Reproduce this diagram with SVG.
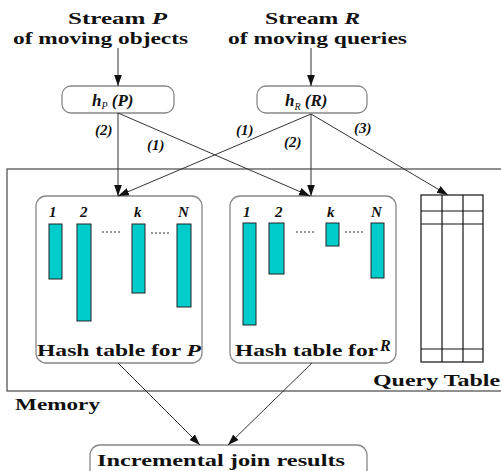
<svg xmlns="http://www.w3.org/2000/svg" width="501" height="471" viewBox="0 0 501 471">
<style>
text{font-family:"Liberation Serif","DejaVu Serif","Times New Roman",serif;font-weight:bold;fill:#111}
.lbl{font-size:16px}
.it{font-style:italic}
.rbox{fill:#fff;stroke:#888;stroke-width:1.3}
.bar{fill:#00cccc;stroke:#222;stroke-width:1}
.ar{stroke:#333;stroke-width:1;fill:none;marker-end:url(#ah)}
.dot{stroke:#333;stroke-width:1;stroke-dasharray:2,2}
.qt{stroke:#111;stroke-width:1.2;fill:#fff}
</style>
<defs>
<marker id="ah" viewBox="0 0 10 10" refX="10" refY="5" markerWidth="11" markerHeight="11" markerUnits="userSpaceOnUse" orient="auto">
<path d="M0,1.5 L10,5 L0,8.5 z" fill="#111"/>
</marker>
</defs>
<rect width="501" height="471" fill="#fff"/>

<g id="memory">
<rect x="7" y="169" width="500" height="222" fill="none" stroke="#555" stroke-width="1.3"/>
<text class="lbl" x="15" y="410" textLength="85" lengthAdjust="spacingAndGlyphs">Memory</text>
</g>

<g id="streamP">
<text class="lbl" x="68" y="24" textLength="99" lengthAdjust="spacingAndGlyphs">Stream  <tspan class="it">P</tspan></text>
<text class="lbl" x="13" y="44" textLength="175" lengthAdjust="spacingAndGlyphs">of moving objects</text>
</g>

<g id="streamR">
<text class="lbl" x="265" y="24" textLength="95" lengthAdjust="spacingAndGlyphs">Stream <tspan class="it">R</tspan></text>
<text class="lbl" x="228" y="44" textLength="179" lengthAdjust="spacingAndGlyphs">of moving queries</text>
</g>

<g id="hP">
<rect class="rbox" x="62" y="86" width="112" height="27" rx="9"/>
<text class="it" x="92" y="106" font-size="17">h<tspan font-size="10" font-weight="normal" dy="3">P</tspan><tspan dy="-3"> (P)</tspan></text>
</g>

<g id="hR">
<rect class="rbox" x="257" y="86" width="110" height="27" rx="9"/>
<text class="it" x="285" y="106" font-size="17">h<tspan font-size="10" font-weight="normal" dy="4">R</tspan><tspan dy="-4">  (R)</tspan></text>
</g>

<g id="hashP">
<rect class="rbox" x="36" y="196" width="166" height="167" rx="10"/>
<text class="it" font-size="15" x="49" y="217">1</text>
<text class="it" font-size="15" x="80" y="217">2</text>
<text class="it" font-size="15" x="134" y="217">k</text>
<text class="it" font-size="15" x="178" y="217">N</text>
<rect class="bar" x="49" y="224" width="13" height="55"/>
<rect class="bar" x="77" y="224" width="14" height="97"/>
<rect class="bar" x="132" y="224" width="13" height="69"/>
<rect class="bar" x="177" y="224" width="14" height="83"/>
<line class="dot" x1="102" y1="232" x2="121" y2="232"/>
<line class="dot" x1="151" y1="233" x2="170" y2="233"/>
<text font-size="16" x="37" y="356" textLength="164" lengthAdjust="spacingAndGlyphs">Hash table for <tspan class="it">P</tspan></text>
</g>

<g id="hashR">
<rect class="rbox" x="230" y="196" width="166" height="167" rx="10"/>
<text class="it" font-size="15" x="243" y="217">1</text>
<text class="it" font-size="15" x="275" y="217">2</text>
<text class="it" font-size="15" x="327" y="217">k</text>
<text class="it" font-size="15" x="371" y="217">N</text>
<rect class="bar" x="243" y="223" width="13" height="102"/>
<rect class="bar" x="269" y="223" width="15" height="51"/>
<rect class="bar" x="326" y="223" width="13" height="23"/>
<rect class="bar" x="371" y="223" width="13" height="55"/>
<line class="dot" x1="296" y1="232" x2="315" y2="232"/>
<line class="dot" x1="345" y1="232" x2="365" y2="232"/>
<text font-size="16" x="235" y="356" textLength="143" lengthAdjust="spacingAndGlyphs">Hash table for</text>
<text class="it" font-size="16" x="380" y="351">R</text>
</g>

<g id="queryTable">
<rect class="qt" x="421" y="195" width="62" height="167"/>
<line class="qt" x1="442" y1="195" x2="442" y2="362"/>
<line class="qt" x1="463" y1="195" x2="463" y2="362"/>
<line class="qt" x1="421" y1="211" x2="483" y2="211"/>
<line class="qt" x1="421" y1="224" x2="483" y2="224"/>
<line class="qt" x1="421" y1="349" x2="483" y2="349"/>
<text font-size="16" x="373" y="386" textLength="127" lengthAdjust="spacingAndGlyphs">Query Table</text>
</g>

<g id="results">
<rect class="rbox" x="90" y="445" width="277" height="40" rx="10"/>
<text font-size="16" x="97" y="466" textLength="248" lengthAdjust="spacingAndGlyphs">Incremental join  results</text>
</g>

<g id="connectors">
<line class="ar" x1="118" y1="48" x2="118" y2="86"/>
<line class="ar" x1="311" y1="48" x2="311" y2="86"/>
<line class="ar" x1="118" y1="113" x2="118" y2="196"/>
<line class="ar" x1="118" y1="113" x2="310" y2="196"/>
<line class="ar" x1="311" y1="114" x2="118" y2="196"/>
<line class="ar" x1="311" y1="114" x2="311" y2="196"/>
<line class="ar" x1="311" y1="114" x2="448" y2="195"/>
<line class="ar" x1="118" y1="363" x2="200" y2="445"/>
<line class="ar" x1="312" y1="363" x2="228" y2="445"/>
<text class="it" font-size="15" x="95" y="135">(2)</text>
<text class="it" font-size="15" x="147" y="150">(1)</text>
<text class="it" font-size="15" x="236" y="135">(1)</text>
<text class="it" font-size="15" x="284" y="147">(2)</text>
<text class="it" font-size="15" x="354" y="133">(3)</text>
</g>
</svg>
